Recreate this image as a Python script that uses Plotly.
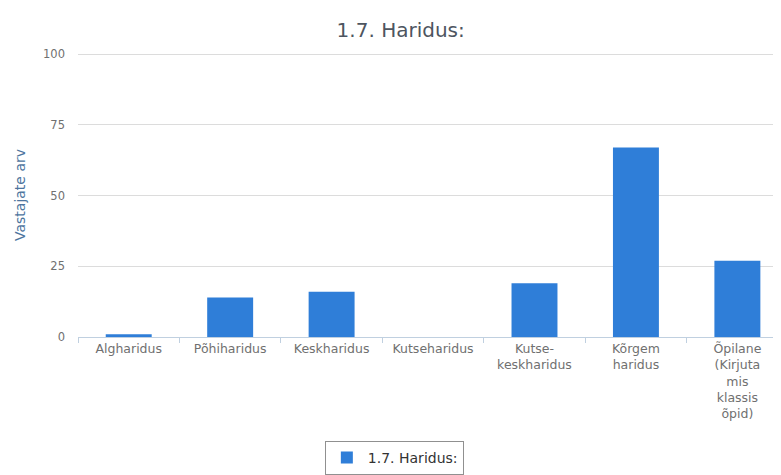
import plotly.graph_objects as go

# Data
categories = [
    "Algharidus",
    "Põhiharidus",
    "Keskharidus",
    "Kutseharidus",
    "Kutse-<br>keskharidus",
    "Kõrgem<br>haridus",
    "Õpilane<br>(Kirjuta<br>mis<br>klassis<br>õpid)",
]
counts = [1, 14, 16, 0, 19, 67, 27]
y_ticks = [0, 25, 50, 75, 100]
series_name = "1.7. Haridus:"

fig = go.Figure([go.Bar(
    x=categories,
    y=counts,
    name=series_name,
    marker=dict(color="#2f7ed8", line=dict(width=0)),
    showlegend=True,
)])

# page body has an 8px margin, so the figure is a bit smaller than the window
fig.update_layout(
    width=773, height=467,
    paper_bgcolor="white", plot_bgcolor="white",
    font=dict(family="DejaVu Sans", size=12, color="#666666"),
    title=dict(text="1.7. Haridus:", x=0.508, xanchor="center",
               y=1 - 22 / 467, yanchor="middle",
               font=dict(size=20, color="#4d5560")),
    margin=dict(l=70, r=0, t=45, b=137),
    bargap=0.547,
    legend=dict(orientation="h", x=0.45, xanchor="center", y=-0.365, yanchor="top",
                bordercolor="#909090", borderwidth=1, itemwidth=32,
                font=dict(size=14, color="#333333")),
)
# the last category runs a little past the right edge, as in the original
fig.update_xaxes(
    range=[-0.5, 6.43],
    showline=True, linecolor="#c0d0e0", linewidth=1,
    ticks="outside", tickson="boundaries", ticklen=5, tickcolor="#c0d0e0",
    tickangle=0, showgrid=False,
    tickfont=dict(size=12.5, color="#707070"),
)
fig.update_yaxes(
    range=[0, 100.4], tickvals=y_ticks,
    showgrid=True, gridcolor="#dcdcdc", gridwidth=1,
    zeroline=False, showline=False,
    tickfont=dict(size=11.5, color="#707070"),
    ticklabelstandoff=12,
    title=dict(text="Vastajate arv", font=dict(size=14, color="#4d759e"), standoff=14),
)

fig.write_html("out.html")
